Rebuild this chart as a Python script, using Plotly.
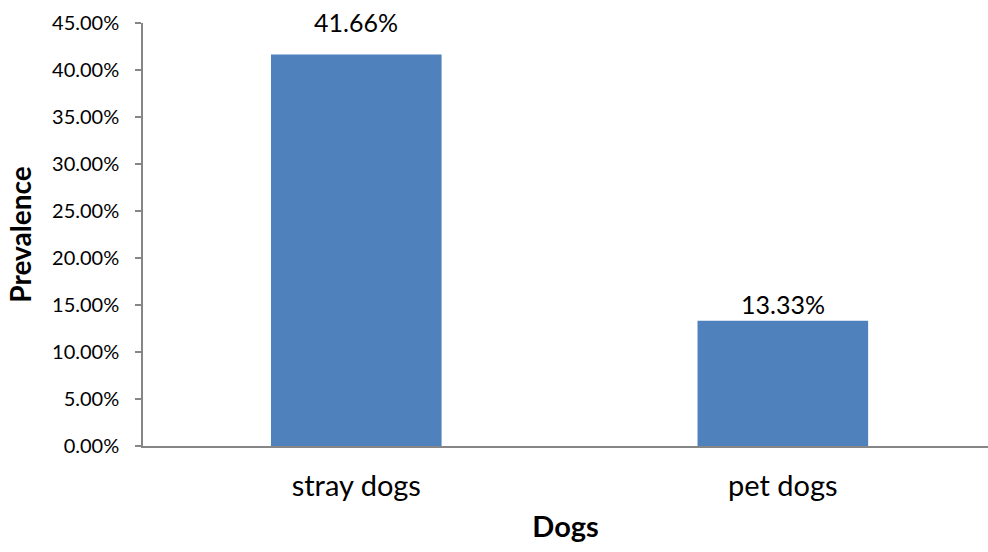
import plotly.graph_objects as go

categories = ["stray dogs", "pet dogs"]
prevalence = [41.66, 13.33]
labels = ["41.66%", "13.33%"]
y_ticks = [0, 5, 10, 15, 20, 25, 30, 35, 40, 45]
y_tick_text = ["0.00%", "5.00%", "10.00%", "15.00%", "20.00%", "25.00%", "30.00%", "35.00%", "40.00%", "45.00%"]

# label pixel offsets above bar tops (style)
label_shift = [32, 17]

FONT = "Lato, 'Open Sans', sans-serif"

fig = go.Figure(go.Bar(
    x=[0, 1], y=prevalence, width=0.4,
    marker=dict(color="#4F81BD", line=dict(width=0)),
    hoverinfo="skip",
))

for i, (v, t) in enumerate(zip(prevalence, labels)):
    fig.add_annotation(x=i, y=v, text=t, showarrow=False, yanchor="middle",
                       yshift=label_shift[i],
                       font=dict(family=FONT, size=25, color="#000000"))

fig.update_layout(
    width=988, height=552,
    margin=dict(l=143, r=0, t=23, b=106),
    paper_bgcolor="white", plot_bgcolor="white",
    showlegend=False,
    font=dict(family=FONT, color="#000000"),
    xaxis=dict(
        range=[-0.5, 1.481], tickmode="array", tickvals=[0, 1], ticktext=categories,
        showgrid=False, zeroline=False, showline=True, linecolor="#868686", linewidth=1.5,
        ticks="", tickfont=dict(size=29, family=FONT), ticklabelstandoff=13,
        title=dict(text="<b>Dogs</b>", font=dict(size=29, family=FONT), standoff=16),
    ),
    yaxis=dict(
        range=[0, 45], tickmode="array", tickvals=y_ticks, ticktext=y_tick_text,
        showgrid=False, zeroline=False, showline=True, linecolor="#868686", linewidth=1.5,
        ticks="outside", ticklen=6, tickcolor="#868686", tickwidth=1.5,
        tickfont=dict(size=20, family=FONT), ticklabelstandoff=12,
        title=dict(text="<b>Prevalence</b>", font=dict(size=28, family=FONT), standoff=12),
    ),
)

fig.write_html("out.html")
